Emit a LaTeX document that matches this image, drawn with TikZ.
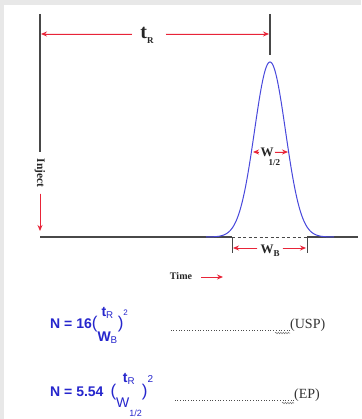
\documentclass[tikz,border=0pt]{standalone}
\usepackage{fontspec}
\setmainfont{Liberation Serif}
\newfontfamily\eqfont{Liberation Sans}
\usepackage{xcolor}
\usetikzlibrary{positioning, arrows.meta, decorations.pathmorphing}

\definecolor{tickred}{RGB}{232,36,56}
\definecolor{peakblue}{RGB}{72,72,220}
\definecolor{eqblue}{RGB}{38,38,205}
\definecolor{axisgray}{RGB}{72,72,72}
\definecolor{framegray}{RGB}{232,232,232}

\newcommand{\ratio}[2]{\begin{tabular}[c]{@{}c@{}}#1\\[7pt]#2\end{tabular}}
\newcommand{\paren}[1]{{\fontsize{17}{17}\selectfont\mdseries #1}}

\begin{document}
\begin{tikzpicture}[x=1pt, y=-1pt]
        \tikzstyle{trace} = [draw=axisgray, line width=1.2pt]
        \tikzstyle{peak} = [draw=peakblue, line width=1pt]
        \tikzstyle{dimarrow} = [draw=tickred, line width=0.9pt, -{Stealth[length=6pt, width=5pt]}, fill=tickred]
        \tikzstyle{tick} = [draw=axisgray, line width=0.6pt]
        \tikzstyle{lbl} = [inner sep=0pt, text=black!85]
        \tikzstyle{eq} = [inner sep=0pt, anchor=west, text=eqblue, font=\eqfont\fontsize{14}{18}\selectfont]
        \tikzstyle{tag} = [inner sep=0pt, anchor=west, text=black!80, font=\fontsize{14}{14}\selectfont]
        \tikzstyle{leader} = [draw=black!70, line width=0.7pt, dash pattern=on 0.7pt off 2pt]
        \tikzstyle{squiggle} = [draw=black!55, line width=0.5pt, decorate, decoration={snake, amplitude=0.7pt, segment length=2.5pt}]

        \clip (0,0) rectangle (361,419);
        \fill[framegray] (0,0) rectangle (361,419);
        \fill[white] (4,5) rectangle (361,419);

        % axes
        \coordinate (inj top) at (40,14);
        \coordinate (inj stop) at (40,152);
        \coordinate (inj tip) at (40,231);
        \coordinate (base left) at (40,237);
        \coordinate (wb left) at (232,237);
        \coordinate (wb right) at (307,237);
        \coordinate (base right) at (358,237);
        \coordinate (tr top) at (270,14);
        \coordinate (tr bottom) at (270,55);

        \node [lbl, rotate=-90, font=\bfseries\fontsize{11.5}{12}\selectfont] (inject) at (40,173) {Inject};
        \draw [trace] (inj top) -- (inj stop);
        \draw [dimarrow] ([yshift=-6pt]inject.east) -- (inj tip);
        \draw [trace] (base left) -- (wb left);
        \draw [trace, line width=0.8pt, dash pattern=on 3pt off 2.5pt] (wb left) -- (wb right);
        \draw [trace] (wb right) -- (base right);
        \draw [trace] (tr top) -- (tr bottom);

        % peak
        \draw [peak] plot [domain=206:334, samples=129, smooth] (\x, {237-175*exp(-((\x-270)^2)/480.5)});

        % retention time
        \coordinate (tr left) at (41,34);
        \coordinate (tr right) at (269,34);
        \node [lbl, anchor=base, font=\bfseries\fontsize{20}{20}\selectfont] (tr) at (147,39) {t\raisebox{-5pt}{\fontsize{9}{9}\selectfont R}};
        \draw [dimarrow] ([xshift=-8pt]tr.west |- tr left) -- (tr left);
        \draw [dimarrow] ([xshift=12pt]tr.east |- tr right) -- (tr right);

        % half height width
        \coordinate (half left) at (253,152);
        \coordinate (half right) at (288,152);
        \node [lbl, anchor=base, font=\bfseries\fontsize{13}{13}\selectfont] (whalf) at (267,157) {W\rlap{\kern-5pt\raisebox{-9pt}{\fontsize{9}{9}\selectfont 1/2}}};
        \draw [dimarrow] ([xshift=-1pt]whalf.west |- half left) -- (half left);
        \draw [dimarrow] ([xshift=1pt]whalf.east |- half right) -- (half right);

        % base width
        \coordinate (wb left low) at (232,253);
        \coordinate (wb right low) at (307,253);
        \coordinate (wb tip left) at (233,248);
        \coordinate (wb tip right) at (306,248);
        \draw [tick] (wb left) -- (wb left low);
        \draw [tick] (wb right) -- (wb right low);
        \node [lbl, anchor=base, font=\bfseries\fontsize{13}{13}\selectfont] (wb) at (270,253) {W\raisebox{-3pt}{\fontsize{9}{9}\selectfont B}};
        \draw [dimarrow] ([xshift=-3pt]wb.west |- wb tip left) -- (wb tip left);
        \draw [dimarrow] ([xshift=3pt]wb.east |- wb tip right) -- (wb tip right);

        % time axis
        \coordinate (time tip) at (223,277);
        \node [lbl, font=\bfseries\fontsize{10}{10}\selectfont] (time) at (181,276) {Time};
        \draw [dimarrow] ([xshift=9pt]time.east |- time tip) -- (time tip);

        % plate numbers
        \node [eq] (usp eq) at (50,325) {\textbf{N = 16}\paren{(}\ratio{\textbf{t}\textsubscript{R}}{\textbf{W}\textsubscript{B}}\paren{)}\raisebox{13pt}{\fontsize{8}{8}\selectfont 2}};
        \node [eq] (ep eq) at (50,393) {\textbf{N = 5.54}\hspace{7pt}\paren{(}\ratio{\textbf{t}\textsubscript{R}}{W\raisebox{-9pt}{\fontsize{9}{9}\selectfont 1/2}}\paren{)}\raisebox{14pt}{\fontsize{10}{10}\selectfont 2}};

        \node [tag] (usp) at (290,325) {(USP)};
        \node [tag] (ep) at (294,395) {(EP)};
        \coordinate (usp dots) at (170,330);
        \coordinate (ep dots) at (175,400);
        \draw [leader] (usp.west |- usp dots) -- (usp dots);
        \draw [leader] (ep.west |- ep dots) -- (ep dots);
        \draw [squiggle] ([xshift=-15pt]usp.west |- 0,333) -- (usp.west |- 0,333);
        \draw [squiggle] ([xshift=-12pt]ep.west |- 0,403) -- (ep.west |- 0,403);
\end{tikzpicture}
\end{document}
